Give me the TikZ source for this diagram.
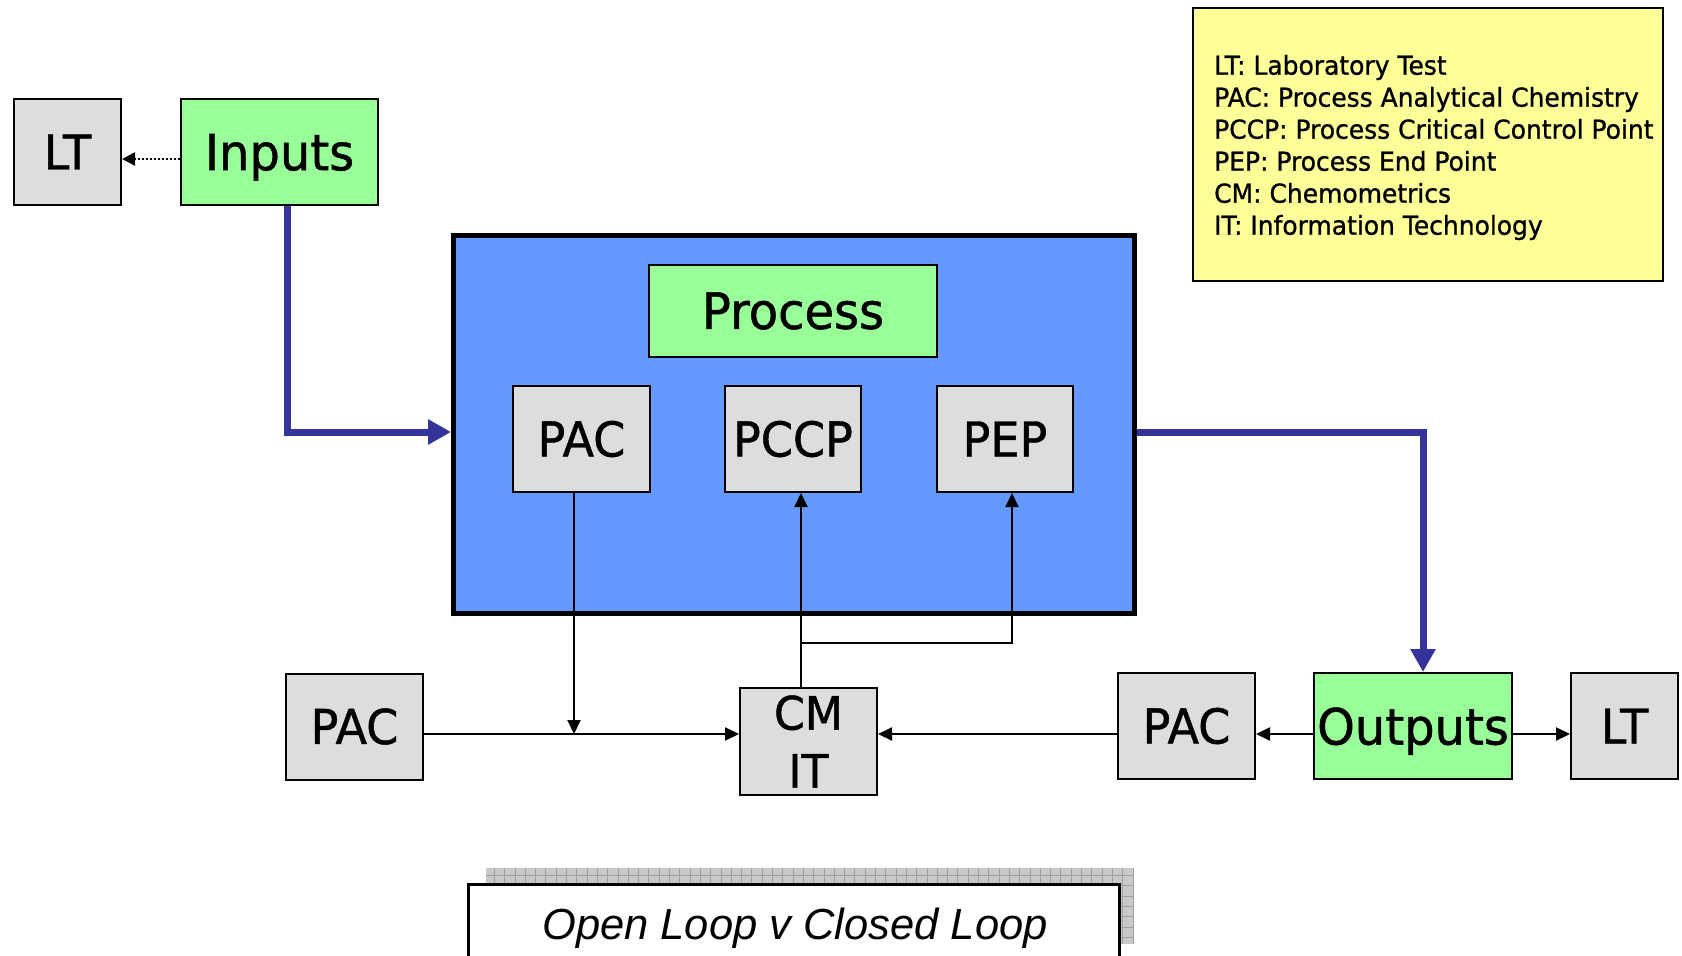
\documentclass[tikz,border=0pt]{standalone}
\usepackage{fontspec}
\setmainfont{DejaVu Sans}[FakeStretch=0.96,FakeBold=1]
\newfontfamily\titlefont{Liberation Sans}
\usetikzlibrary{arrows.meta}
\definecolor{boxgray}{HTML}{DDDDDD}
\definecolor{boxgreen}{HTML}{99FF99}
\definecolor{procblue}{HTML}{6699FF}
\definecolor{legyellow}{HTML}{FFFF99}
\definecolor{arrowblue}{HTML}{333399}
\definecolor{shadowgray}{HTML}{C8C8C8}
\definecolor{gridgray}{HTML}{A0A0A0}
\tikzset{
  gbox/.style={draw=black, line width=2pt, fill=boxgray, inner sep=0pt,
    minimum width=137pt, minimum height=106pt, font=\fontsize{48}{58}\selectfont},
  grbox/.style={gbox, fill=boxgreen},
  arr/.style={line width=2pt, -{Triangle[length=14pt,width=13pt]}},
  dotarr/.style={line width=2.5pt, dash pattern=on 2pt off 2pt, -{Triangle[length=13pt,width=13pt]}},
  bluearr/.style={line width=7pt, draw=arrowblue, -{Triangle[length=23pt,width=24pt]}},
}
\begin{document}
\begin{tikzpicture}[x=1pt,y=-1pt]
\useasboundingbox (0,0) rectangle (1682,956);
% main process box
\node[draw=black, line width=5pt, fill=procblue, inner sep=0pt,
  minimum width=681pt, minimum height=378pt] (proc) at (794,424.5) {};
\node[grbox, minimum width=288pt, minimum height=92pt, font=\fontsize{50}{58}\selectfont] (process) at (793,311) {Process};
\node[gbox] (pacI) at (581.5,439) {PAC};
\node[gbox, minimum width=136pt] (pccp) at (793,439) {PCCP};
\node[gbox, minimum width=136pt] (pep) at (1005,439) {PEP};
% top left
\node[gbox, minimum width=107pt] (ltL) at (67.5,152) {LT};
\node[grbox, minimum width=197pt, text depth=0pt, font=\fontsize{50}{58}\selectfont] (inputs) at (279.5,152) {Inputs};
% bottom row
\node[gbox] (pacL) at (354.5,726.5) {PAC};
\node[gbox, minimum height=107pt, align=center, font=\fontsize{46}{58}\selectfont] (cm) at (808.5,741.5) {CM\\IT};
\node[gbox] (pacR) at (1186.5,726) {PAC};
\node[grbox, minimum width=198pt, text depth=0pt, font=\fontsize{50}{58}\selectfont] (outputs) at (1413,726) {Outputs};
\node[gbox, minimum width=107pt] (ltR) at (1624.5,726) {LT};
% legend
\node[draw=black, line width=2pt, fill=legyellow, minimum width=470pt, minimum height=273pt] (legend) at (1428,144.5) {};
\node[anchor=west, align=left, inner sep=0pt, font=\fontsize{26}{32}\selectfont] (legtext) at (1214,147.5)
  {LT: Laboratory Test\\PAC: Process Analytical Chemistry\\PCCP: Process Critical Control Point\\PEP: Process End Point\\CM: Chemometrics\\IT: Information Technology};
% title with shadow
\fill[shadowgray] (486,868) rectangle (1134,944);
\draw[gridgray, line width=1pt] (486,868) grid[step=10.3pt] (1134,944);
\fill[white] (468,884) rectangle (1119,956);
\draw[line width=3pt] (468,956) -- (468,884) -- (1119,884) -- (1119,956);
\node[font=\titlefont\itshape\fontsize{43.5}{50}\selectfont, inner sep=0pt] (title) at (795,928) {Open Loop v Closed Loop};
% connectors
\coordinate (dotY) at (0,159);
\draw[dotarr] (inputs.west |- dotY) -- (ltL.east |- dotY);
\coordinate (bIn) at (287,432);
\draw[bluearr] (inputs.south -| bIn) -- (bIn) -- (proc.west |- bIn);
\coordinate (bOut) at (1423,432);
\draw[bluearr] (proc.east |- bOut) -- (bOut) -- (outputs.north -| bOut);
\coordinate (jPAC) at (574,734);
\draw[arr] (pacI.south -| jPAC) -- (jPAC);
\draw[arr] (pacL.east |- jPAC) -- (cm.west |- jPAC);
\coordinate (jCM) at (801,643);
\coordinate (jPEP) at (1012,643);
\draw[arr] (cm.north -| jCM) -- (pccp.south -| jCM);
\draw[arr] (jCM) -- (jPEP) -- (pep.south -| jPEP);
\draw[arr] (pacR.west |- jPAC) -- (cm.east |- jPAC);
\draw[arr] (outputs.west |- jPAC) -- (pacR.east |- jPAC);
\draw[arr] (outputs.east |- jPAC) -- (ltR.west |- jPAC);
\end{tikzpicture}
\end{document}
